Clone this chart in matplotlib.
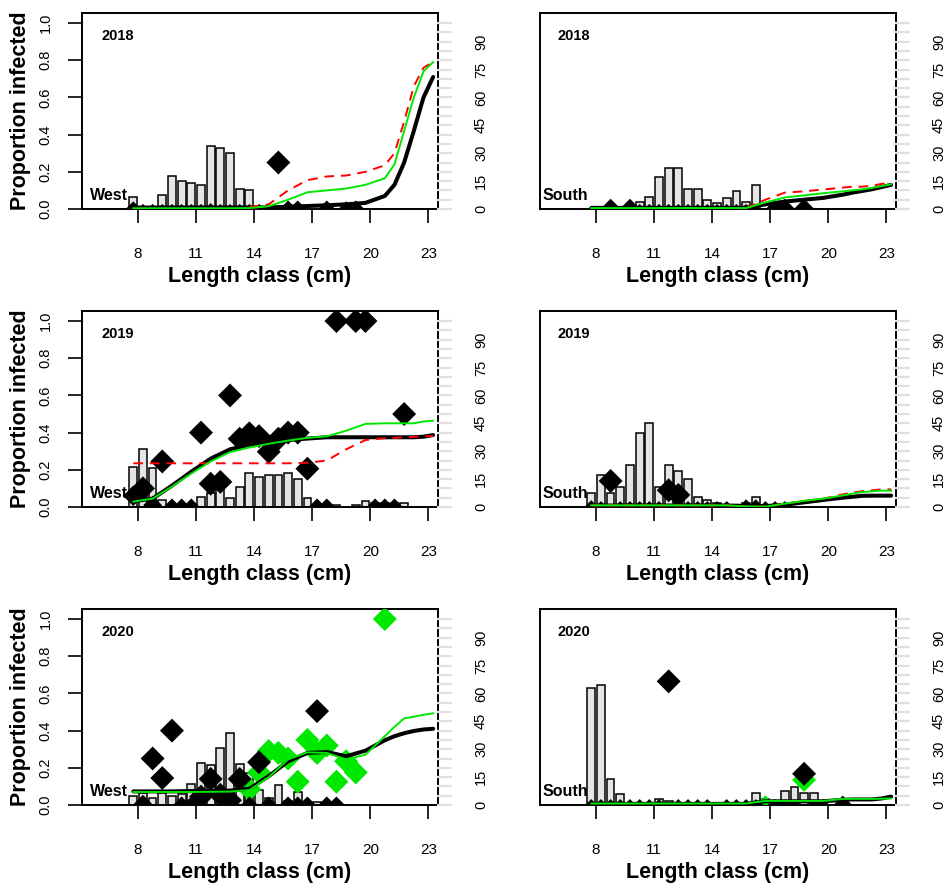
import numpy as np
import matplotlib
matplotlib.use('Agg')
import matplotlib.pyplot as plt
from matplotlib import transforms

plt.rcParams['font.family'] = ['Liberation Sans', 'DejaVu Sans']
nan = np.nan

# ---- length classes (cm) of the bars and the grid of the fitted curves ----
length_class = [7.75, 8.25, 8.75, 9.25, 9.75, 10.25, 10.75, 11.25, 11.75, 12.25,
                12.75, 13.25, 13.75, 14.25, 14.75, 15.25, 15.75, 16.25, 16.75, 17.25,
                17.75, 18.25, 18.75, 19.25, 19.75, 20.25, 20.75, 21.25, 21.75]
curve_x = [7.75, 8.75, 9.75, 10.75, 11.75, 12.75, 13.75, 14.75, 15.75, 16.75,
           17.75, 18.75, 19.75, 20.75, 21.25, 21.75, 22.25, 22.75, 23.25]

# ---- number of fish per length class (right axis) ----
west18_n = [6.5, 1, 1, 7.5, 18, 15, 14, 13, 34, 33, 30, 11, 10, 1, 1,
            0, 0, 0, 0, 0, 0, 0, 0, 0, 0, 0, 0, 0, 0]
south18_n = [0, 0, 0, 0, 0, 4, 6.5, 17, 22, 22, 10.5, 10.5, 5, 3, 6, 9.5, 4, 13,
             0, 0, 0, 0, 0, 0, 0, 0, 0, 0, 0]
west19_n = [21.5, 31, 21, 4, 0, 0, 0, 5.5, 7.5, 11, 5, 10.5, 18.5, 16, 17, 17, 18.5, 15,
            5, 1, 0, 1, 0, 1, 3, 2, 2, 2, 2]
south19_n = [7.7, 17, 7.7, 10.5, 22.5, 40, 45, 10.5, 22.5, 19.3, 15, 5.5, 4, 2, 1, 1, 2, 5.5,
             1, 1, 0, 0, 0, 0, 0, 0, 0, 0, 0]
west20_n = [5, 6.5, 4, 6.5, 5, 6, 11.5, 22.5, 21.5, 30.5, 38.5, 22, 17, 8, 4, 10.5, 2, 7,
            1, 1.5, 1, 0, 0, 0, 0, 0, 0, 0, 0]
south20_n = [63, 64.5, 14, 6, 1, 1, 1, 3, 2, 1, 1, 1, 0, 0, 1, 1, 1, 6.3,
             3, 1, 7.5, 9.5, 6.3, 6.3, 1, 0, 0, 0, 0]

# ---- observed proportion infected (x, proportion, sample weight) ----
west18_x = [7.75, 8.25, 8.75, 9.25, 9.75, 10.25, 10.75, 11.25, 11.75, 12.25, 12.75,
            13.25, 13.75, 14.25, 14.75, 15.25, 15.75, 16.25, 17.75, 18.75, 19.25]
west18_p = [0, 0, 0, 0, 0, 0, 0, 0, 0, 0, 0, 0, 0, 0, 0, 0.25, 0, 0, 0, 0, 0]
west18_w = [5, 2, 2, 2, 2, 2, 2, 2, 3, 2, 2, 2, 2, 2, 2, 10, 6, 6, 6, 5, 6]

south18_x = [8.75, 9.75, 10.25, 10.75, 11.25, 11.75, 12.25, 12.75, 13.25, 13.75,
             14.25, 14.75, 15.25, 15.75, 16.25, 17.25, 17.75, 18.75]
south18_p = [0] * 18
south18_w = [8, 8, 2, 2, 2, 2, 2, 2, 2, 2, 2, 2, 2, 2, 2, 7, 8, 8]

west19_x = [7.75, 8.25, 8.75, 9.25, 9.75, 10.25, 10.75, 11.25, 11.75, 12.25, 12.75,
            13.25, 13.75, 14.25, 14.75, 15.25, 15.75, 16.25, 16.75, 17.25, 17.75,
            18.25, 19.25, 19.75, 20.25, 20.75, 21.25, 21.75]
west19_p = [0.06, 0.1, 0.01, 0.245, 0, 0, 0, 0.4, 0.125, 0.135, 0.6, 0.367, 0.396, 0.381,
            0.297, 0.367, 0.4, 0.4, 0.206, 0, 0, 1.0, 1.0, 1.0, 0, 0, 0, 0.5]
west19_w = [8, 10, 7, 10, 6, 6, 6, 10, 10, 10, 10, 10, 10, 10, 10, 10, 10, 10, 10,
            6, 6, 10, 10, 10, 6, 6, 6, 10]

south19_x = [7.75, 8.25, 8.75, 9.25, 9.75, 10.25, 10.75, 11.25, 11.75, 12.25, 12.75,
             13.25, 13.75, 14.25, 14.75, 15.75, 16.25, 16.75, 17.25, 17.75]
south19_p = [0, 0, 0.14, 0, 0, 0, 0, 0, 0.09, 0.065, 0, 0, 0, 0, 0, 0, 0, 0, 0, 0]
south19_w = [4, 3, 10, 3, 3, 3, 3, 3, 10, 10, 3, 3, 3, 3, 3, 5, 5, 3, 3, 3]

west20_x = [8.25, 8.75, 9.25, 9.75, 10.25, 10.75, 11.25, 11.75, 12.25, 12.75, 13.25,
            13.75, 14.25, 14.75, 15.75, 16.25, 16.75, 17.25, 17.75, 18.25]
west20_p = [0, 0.25, 0.145, 0.4, 0, 0, 0.045, 0.14, 0.055, 0.025, 0.14, 0, 0.23, 0,
            0, 0, 0, 0.505, 0, 0]
west20_w = [8, 10, 10, 10, 6, 6, 10, 10, 10, 10, 10, 6, 10, 6, 6, 6, 6, 10, 6, 6]
west20_gx = [13.75, 14.25, 14.75, 15.25, 15.75, 16.25, 16.75, 17.25, 17.75, 18.25,
             18.75, 19.25, 20.75]
west20_gp = [0.085, 0.175, 0.29, 0.28, 0.25, 0.125, 0.35, 0.28, 0.32, 0.125, 0.235, 0.175, 1.0]
west20_gw = [10] * 13

south20_x = [7.75, 8.25, 8.75, 9.25, 9.75, 10.25, 10.75, 11.25, 11.75, 12.25, 12.75,
             13.25, 13.75, 14.75, 15.25, 15.75, 16.25, 17.25, 17.75, 18.25, 18.75,
             19.25, 19.75, 20.75]
south20_p = [0, 0, 0, 0, 0, 0, 0, 0, 0.665, 0, 0, 0, 0, 0, 0, 0, 0, 0, 0, 0, 0.168, 0, 0, 0]
south20_w = [3, 3, 3, 3, 3, 3, 3, 3, 10, 3, 3, 3, 3, 3, 3, 3, 3, 3, 3, 3, 10, 3, 3, 7]
south20_gx = [16.75, 18.75]
south20_gp = [0.02, 0.135]
south20_gw = [3, 10]

# ---- fitted curves (black = model, green / red = alternatives) ----
west18_fit = [0.008, 0.008, 0.008, 0.008, 0.008, 0.008, 0.008, 0.009, 0.012, 0.016,
              0.02, 0.025, 0.033, 0.07, 0.13, 0.25, 0.42, 0.6, 0.71]
west18_green = [0.004, 0.004, 0.004, 0.004, 0.004, 0.004, 0.005, 0.015, 0.05, 0.09,
                0.1, 0.11, 0.13, 0.165, 0.24, 0.42, 0.6, 0.74, 0.79]
west18_red = [nan, nan, nan, nan, nan, nan, 0.01, 0.025, 0.1, 0.155, 0.175, 0.18, 0.2,
              0.235, 0.3, 0.47, 0.66, 0.76, 0.79]

south18_fit = [0.006, 0.006, 0.006, 0.006, 0.006, 0.006, 0.006, 0.006, 0.007, 0.025,
               0.04, 0.05, 0.06, 0.077, 0.088, 0.097, 0.106, 0.118, 0.13]
south18_green = [0.005, 0.005, 0.005, 0.005, 0.005, 0.005, 0.005, 0.005, 0.005, 0.035,
                 0.062, 0.073, 0.085, 0.095, 0.1, 0.106, 0.113, 0.123, 0.133]
south18_red = [nan, nan, nan, nan, nan, nan, nan, nan, 0.005, 0.05, 0.088, 0.095, 0.105,
               0.115, 0.12, 0.12, 0.125, 0.135, 0.142]

west19_fit = [0.03, 0.045, 0.115, 0.19, 0.26, 0.31, 0.335, 0.35, 0.36, 0.368, 0.375,
              0.375, 0.375, 0.375, 0.375, 0.375, 0.375, 0.378, 0.387]
west19_green = [0.029, 0.045, 0.11, 0.18, 0.245, 0.295, 0.32, 0.34, 0.357, 0.372, 0.38,
                0.41, 0.447, 0.45, 0.45, 0.45, 0.45, 0.46, 0.464]
west19_red = [0.235, 0.235, 0.235, 0.235, 0.235, 0.235, 0.235, 0.235, 0.235, 0.238, 0.25,
              0.31, 0.36, 0.37, 0.372, 0.375, 0.377, 0.38, 0.382]

south19_fit = [0.008, 0.008, 0.008, 0.008, 0.008, 0.008, 0.008, 0.008, 0.006, 0.005,
               0.012, 0.025, 0.038, 0.05, 0.055, 0.06, 0.061, 0.061, 0.061]
south19_green = [0.009, 0.009, 0.009, 0.009, 0.009, 0.009, 0.009, 0.009, 0.003, 0.002,
                 0.018, 0.033, 0.045, 0.062, 0.072, 0.08, 0.085, 0.088, 0.088]
south19_red = [0.009, 0.009, 0.009, 0.009, 0.009, 0.009, 0.009, 0.009, 0.003, 0.002,
               0.018, 0.033, 0.045, 0.068, 0.077, 0.085, 0.09, 0.095, 0.095]

west20_fit = [0.073, 0.073, 0.073, 0.075, 0.075, 0.077, 0.087, 0.155, 0.235, 0.28, 0.285,
              0.262, 0.292, 0.348, 0.37, 0.386, 0.398, 0.406, 0.41]
west20_green = [0.07, 0.07, 0.07, 0.07, 0.071, 0.072, 0.08, 0.15, 0.245, 0.283, 0.28,
                0.245, 0.27, 0.37, 0.42, 0.466, 0.475, 0.485, 0.493]

south20_fit = [0.006, 0.006, 0.006, 0.006, 0.006, 0.006, 0.006, 0.006, 0.006, 0.02,
               0.02, 0.02, 0.02, 0.028, 0.03, 0.03, 0.03, 0.035, 0.045]
south20_green = [0.008, 0.008, 0.008, 0.008, 0.008, 0.008, 0.008, 0.008, 0.008, 0.022,
                 0.022, 0.022, 0.022, 0.033, 0.033, 0.033, 0.033, 0.034, 0.035]

prop_ticks = [0.0, 0.2, 0.4, 0.6, 0.8, 1.0]
count_labels = [0, 15, 30, 45, 60, 75, 90]
count_ticks = list(range(0, 101, 5))
x_ticks = [8, 11, 14, 17, 20, 23]

GREEN = '#00e800'
W, H = 948, 888
COLS = [(82, 438), (540, 896)]
ROWS = [(13, 209), (311, 507), (609, 805)]


def msize(w):
    return (3.4 + 0.88 * np.asarray(w, float)) ** 2


def draw_panel(ax, year, area, counts, pts, gpts, fit, green, red, left):
    ax_n = ax.twinx()
    ax.set_zorder(ax_n.get_zorder() + 1)
    ax.patch.set_visible(False)

    cx = [x for x, c in zip(length_class, counts) if c > 0]
    cn = [c for c in counts if c > 0]
    ax_n.bar(cx, cn, width=0.4, color='#e5e5e5', edgecolor='black', linewidth=1.1)
    ax_n.set_ylim(0, 105.4)
    for s in ax_n.spines.values():
        s.set_visible(False)
    ax_n.set_yticks(count_labels)
    ax_n.set_yticklabels([str(v) for v in count_labels])
    ax_n.tick_params(axis='y', length=0, pad=26, labelsize=10.5, labelrotation=90)
    for lab in ax_n.get_yticklabels():
        lab.set_va('center')

    # light grey count ticks drawn over the right border
    blend = transforms.blended_transform_factory(ax.transAxes, ax_n.transData)
    for c in count_ticks:
        ax.plot([0.996, 1.04], [c, c], transform=blend, color='#e0e0e0', lw=1.6,
                clip_on=False, zorder=6, solid_capstyle='butt')

    if gpts is not None:
        ax.scatter(gpts[0], gpts[1], s=msize(gpts[2]), marker='D', color=GREEN,
                   linewidths=0, zorder=3)
    ax.scatter(pts[0], pts[1], s=msize(pts[2]), marker='D', color='black',
               linewidths=0, zorder=3)

    ax.plot(curve_x, fit, color='black', lw=2.9, zorder=4, solid_capstyle='round')
    if red is not None:
        ax.plot(curve_x, red, color='red', lw=1.4, ls=(0, (5, 3.5)), zorder=4)
    ax.plot(curve_x, green, color=GREEN, lw=1.4, zorder=4)

    ax.set_xlim(5.1, 23.5)
    ax.set_ylim(0, 1.054)
    for s in ax.spines.values():
        s.set_linewidth(1.4)
    ax.set_xticks(x_ticks)
    ax.tick_params(axis='x', length=10, width=1.2, pad=17, labelsize=11)
    if left:
        ax.set_yticks(prop_ticks)
        ax.set_yticklabels([f'{v:.1f}' for v in prop_ticks])
        ax.tick_params(axis='y', length=10, width=1.2, pad=11, labelsize=10.5,
                       labelrotation=90)
        for lab in ax.get_yticklabels():
            lab.set_va('center')
        ax.text(-0.174, 0.5, 'Proportion infected', transform=ax.transAxes, rotation=90,
                ha='center', va='center', fontsize=15.5, fontweight='bold')
    else:
        ax.set_yticks([])

    ax.text(0.5, -0.342, 'Length class (cm)', transform=ax.transAxes, ha='center',
            va='center', fontsize=15.5, fontweight='bold')
    ax.text(0.056 if left else 0.05, 0.883, year, transform=ax.transAxes, ha='left',
            va='center', fontsize=10.5, fontweight='bold')
    ax.text(0.022 if left else 0.008, 0.068, area, transform=ax.transAxes, ha='left',
            va='center', fontsize=11.5, fontweight='bold', zorder=2)


fig = plt.figure(figsize=(9.48, 8.88), dpi=100)


def add_ax(col, row):
    x0, x1 = COLS[col]
    y0, y1 = ROWS[row]
    return fig.add_axes([x0 / W, 1 - y1 / H, (x1 - x0) / W, (y1 - y0) / H])


draw_panel(add_ax(0, 0), '2018', 'West', west18_n, (west18_x, west18_p, west18_w), None,
           west18_fit, west18_green, west18_red, True)
draw_panel(add_ax(1, 0), '2018', 'South', south18_n, (south18_x, south18_p, south18_w), None,
           south18_fit, south18_green, south18_red, False)
draw_panel(add_ax(0, 1), '2019', 'West', west19_n, (west19_x, west19_p, west19_w), None,
           west19_fit, west19_green, west19_red, True)
draw_panel(add_ax(1, 1), '2019', 'South', south19_n, (south19_x, south19_p, south19_w), None,
           south19_fit, south19_green, south19_red, False)
draw_panel(add_ax(0, 2), '2020', 'West', west20_n, (west20_x, west20_p, west20_w),
           (west20_gx, west20_gp, west20_gw), west20_fit, west20_green, None, True)
draw_panel(add_ax(1, 2), '2020', 'South', south20_n, (south20_x, south20_p, south20_w),
           (south20_gx, south20_gp, south20_gw), south20_fit, south20_green, None, False)

fig.savefig('out.png', dpi=100)
